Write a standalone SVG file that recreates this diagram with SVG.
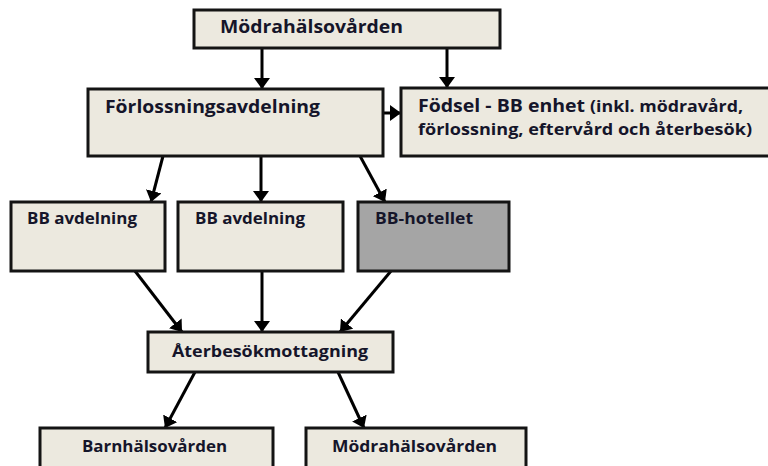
<svg xmlns="http://www.w3.org/2000/svg" width="768" height="466" viewBox="0 0 768 466">
<style>
.box{fill:#ECE9DF;stroke:#141414;stroke-width:3}
.dark{fill:#A5A5A5}
.t{font-family:"Open Sans","Liberation Sans",sans-serif;font-weight:700;fill:#15152a}
.c{stroke:#000;stroke-width:3;fill:none;marker-end:url(#ah)}
</style>
<defs>
<marker id="ah" markerUnits="userSpaceOnUse" markerWidth="12" markerHeight="16" refX="11" refY="8" orient="auto">
<path d="M0,0 L11,8 L0,16 z" fill="#000"/>
</marker>
</defs>
<g id="connectors">
<line class="c" x1="262" y1="48" x2="262" y2="89"/>
<line class="c" x1="447" y1="48" x2="447" y2="88"/>
<line class="c" x1="383" y1="113" x2="401" y2="113"/>
<line class="c" x1="163" y1="156" x2="151" y2="202"/>
<line class="c" x1="261" y1="156" x2="261" y2="202"/>
<line class="c" x1="360" y1="156" x2="385" y2="202"/>
<line class="c" x1="135" y1="271" x2="182" y2="332"/>
<line class="c" x1="262" y1="271" x2="262" y2="332"/>
<line class="c" x1="391" y1="271" x2="340" y2="332"/>
<line class="c" x1="195" y1="372" x2="165" y2="428"/>
<line class="c" x1="338" y1="372" x2="364" y2="428"/>
</g>
<g id="n1">
<rect class="box" x="194" y="10" width="306" height="38"/>
<text class="t" x="220" y="33" font-size="17.5" textLength="183" lengthAdjust="spacingAndGlyphs">Mödrahälsovården</text>
</g>
<g id="n2">
<rect class="box" x="88" y="89" width="295" height="67"/>
<text class="t" x="105" y="113" font-size="17.5" textLength="215" lengthAdjust="spacingAndGlyphs">Förlossningsavdelning</text>
</g>
<g id="n3">
<rect class="box" x="401" y="88" width="372" height="68"/>
<text class="t" x="418" y="112" font-size="17.5" textLength="167" lengthAdjust="spacingAndGlyphs">Födsel - BB enhet</text>
<text class="t" x="590" y="112" font-size="15.5" textLength="153" lengthAdjust="spacingAndGlyphs">(inkl. mödravård,</text>
<text class="t" x="418" y="135" font-size="15.5" textLength="334" lengthAdjust="spacingAndGlyphs">förlossning, eftervård och återbesök)</text>
</g>
<g id="n4">
<rect class="box" x="11" y="202" width="154" height="69"/>
<text class="t" x="27" y="224" font-size="16" textLength="110" lengthAdjust="spacingAndGlyphs">BB avdelning</text>
</g>
<g id="n5">
<rect class="box" x="178" y="202" width="165" height="69"/>
<text class="t" x="195" y="224" font-size="16" textLength="110" lengthAdjust="spacingAndGlyphs">BB avdelning</text>
</g>
<g id="n6">
<rect class="box dark" x="358" y="202" width="151" height="69"/>
<text class="t" x="375" y="224" font-size="16" textLength="98" lengthAdjust="spacingAndGlyphs">BB-hotellet</text>
</g>
<g id="n7">
<rect class="box" x="148" y="332" width="245" height="40"/>
<text class="t" x="172" y="357" font-size="16.5" textLength="196" lengthAdjust="spacingAndGlyphs">Återbesökmottagning</text>
</g>
<g id="n8">
<rect class="box" x="40" y="428" width="233" height="50"/>
<text class="t" x="82" y="452" font-size="16.5" textLength="145" lengthAdjust="spacingAndGlyphs">Barnhälsovården</text>
</g>
<g id="n9">
<rect class="box" x="306" y="428" width="220" height="50"/>
<text class="t" x="332" y="452" font-size="16.5" textLength="165" lengthAdjust="spacingAndGlyphs">Mödrahälsovården</text>
</g>
</svg>
